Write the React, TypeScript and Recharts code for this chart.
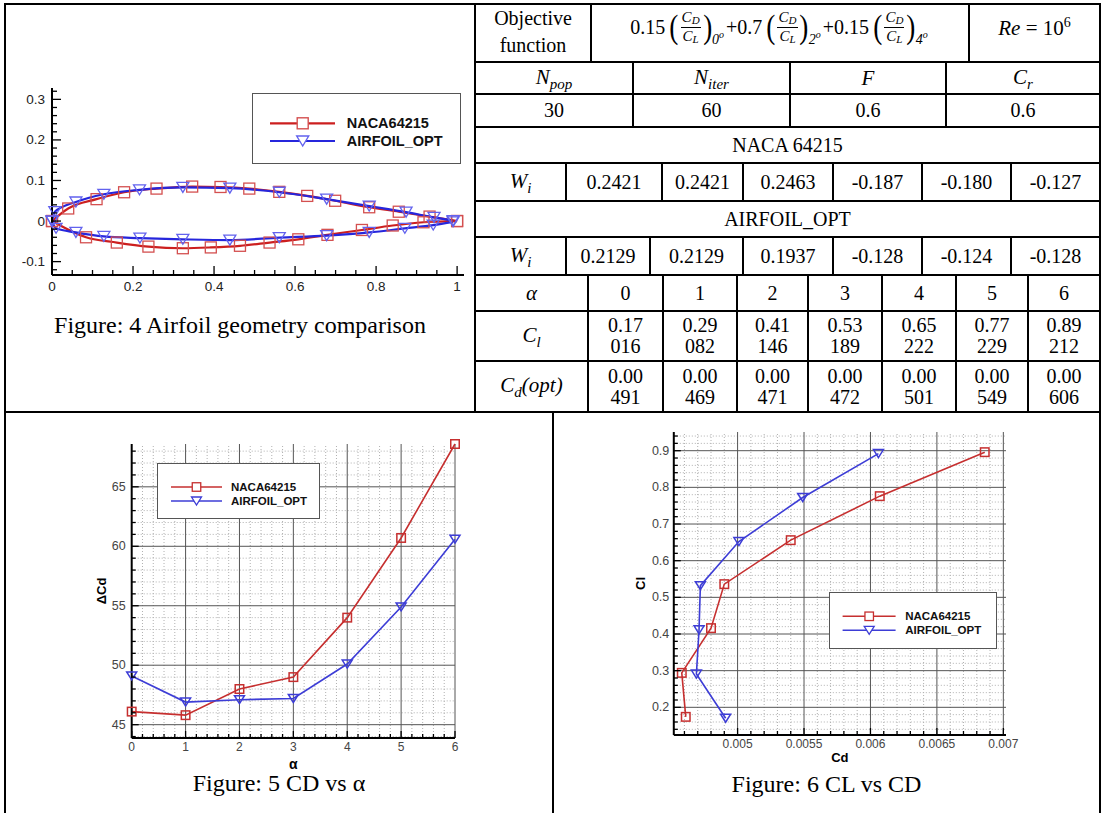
import React from 'react';
import { LineChart, Line, XAxis, YAxis, ReferenceLine, Legend } from 'recharts';

// ---------------- Figure 4 : airfoil geometry (x/c, y/c) ----------------
const nacaUpperX = [0, 0.040, 0.110, 0.178, 0.258, 0.346, 0.416, 0.487, 0.561, 0.630, 0.699, 0.783, 0.856, 0.932, 1.0];
const nacaUpperY = [0, 0.031, 0.054, 0.071, 0.080, 0.085, 0.084, 0.080, 0.072, 0.062, 0.050, 0.034, 0.023, 0.011, 0];
const nacaLowerX = [0, 0.084, 0.160, 0.238, 0.323, 0.392, 0.464, 0.537, 0.608, 0.680, 0.765, 0.841, 0.917, 1.0];
const nacaLowerY = [0, -0.040, -0.053, -0.063, -0.067, -0.065, -0.061, -0.053, -0.045, -0.034, -0.022, -0.011, -0.003, 0];
const optUpperX = [0, 0.007, 0.059, 0.128, 0.216, 0.323, 0.439, 0.561, 0.678, 0.783, 0.874, 0.943, 0.990];
const optUpperY = [0, 0.023, 0.047, 0.066, 0.077, 0.083, 0.081, 0.071, 0.054, 0.037, 0.022, 0.009, 0.001];
const optLowerX = [0, 0.010, 0.059, 0.128, 0.217, 0.323, 0.439, 0.561, 0.678, 0.783, 0.871, 0.941, 0.990];
const optLowerY = [0, -0.018, -0.028, -0.038, -0.042, -0.045, -0.047, -0.041, -0.036, -0.028, -0.018, -0.010, -0.002];

// ---------------- Figure 5 / 6 ----------------
const alphas = [0, 1, 2, 3, 4, 5, 6];
const nacaDeltaCd = [46.1, 45.8, 48.0, 49.0, 54.0, 60.7, 68.6];
const optDeltaCd = [49.1, 46.9, 47.1, 47.2, 50.1, 54.9, 60.6];
const nacaCd = [0.00461, 0.00458, 0.00480, 0.00490, 0.00540, 0.00607, 0.00686];
const nacaCl = [0.174, 0.294, 0.416, 0.536, 0.656, 0.776, 0.896];
const optCd = [0.00491, 0.00469, 0.00471, 0.00472, 0.00501, 0.00549, 0.00606];
const optCl = [0.17016, 0.29082, 0.41146, 0.53189, 0.65222, 0.77229, 0.89212];

// ---------------- Table ----------------
const objWeights = ['0.15', '+0.7', '+0.15'];
const objAngles = ['0', '2', '4'];
const deParams = ['30', '60', '0.6', '0.6'];
const wNaca = ['0.2421', '0.2421', '0.2463', '-0.187', '-0.180', '-0.127'];
const wOpt = ['0.2129', '0.2129', '0.1937', '-0.128', '-0.124', '-0.128'];
const clText = ['0.17016', '0.29082', '0.41146', '0.53189', '0.65222', '0.77229', '0.89212'];
const cdText = ['0.00491', '0.00469', '0.00471', '0.00472', '0.00501', '0.00549', '0.00606'];

// ---------------- ticks ----------------
const fig4XMajor = [0, 0.2, 0.4, 0.6, 0.8, 1];
const fig4XLabels = ['0', '0.2', '0.4', '0.6', '0.8', '1'];
const fig4YMajor = [-0.1, 0, 0.1, 0.2, 0.3];
const fig4YLabels = ['-0.1', '0', '0.1', '0.2', '0.3'];
const fig5XMajor = [0, 1, 2, 3, 4, 5, 6];
const fig5XLabels = ['0', '1', '2', '3', '4', '5', '6'];
const fig5YMajor = [45, 50, 55, 60, 65];
const fig5YLabels = ['45', '50', '55', '60', '65'];
const fig6XMajor = [0.005, 0.0055, 0.006, 0.0065, 0.007];
const fig6XLabels = ['0.005', '0.0055', '0.006', '0.0065', '0.007'];
const fig6YMajor = [0.2, 0.3, 0.4, 0.5, 0.6, 0.7, 0.8, 0.9];
const fig6YLabels = ['0.2', '0.3', '0.4', '0.5', '0.6', '0.7', '0.8', '0.9'];

function range(start: number, stop: number, step: number): number[] {
  const out: number[] = [];
  const n = Math.round((stop - start) / step);
  for (let i = 0; i <= n; i++) out.push(+(start + i * step).toFixed(7));
  return out;
}
const isIn = (arr: number[], v: number) => arr.some((m) => Math.abs(m - v) < 1e-9);

const fig4XTicks = range(0, 1, 0.05);
const fig4YTicks = range(-0.12, 0.32, 0.02);
const fig5XTicks = range(0, 6, 0.2);
const fig5YTicks = range(44, 68, 1);
const fig6XTicks = range(0.0046, 0.007, 0.0001);
const fig6YTicks = range(0.14, 0.94, 0.02);

const zip = (xs: number[], ys: number[]) => xs.map((x, i) => ({ x, y: ys[i] }));

const SANS = '"Liberation Sans", Arial, Helvetica, sans-serif';
const SERIF = '"Liberation Serif", "Times New Roman", serif';

// ---------------- helpers ----------------
function xTick(majors: number[], labels: string[], major: number, minor: number, gap: number, fs: number, color: string) {
  return (props: any) => {
    const { x, y, payload } = props;
    const idx = majors.findIndex((m) => Math.abs(m - payload.value) < 1e-9);
    return (
      <g>
        <line x1={x} x2={x} y1={y} y2={y - (idx >= 0 ? major : minor)} stroke="#000" strokeWidth={1.3} />
        {idx >= 0 && (
          <text x={x} y={y + gap} textAnchor="middle" dominantBaseline="central" fontFamily={SANS} fontSize={fs} fill={color}>
            {labels[idx]}
          </text>
        )}
      </g>
    );
  };
}
function yTick(majors: number[], labels: string[], major: number, minor: number, gap: number, fs: number, color: string) {
  return (props: any) => {
    const { x, y, payload } = props;
    const idx = majors.findIndex((m) => Math.abs(m - payload.value) < 1e-9);
    return (
      <g>
        <line x1={x} x2={x + (idx >= 0 ? major : minor)} y1={y} y2={y} stroke="#000" strokeWidth={1.3} />
        {idx >= 0 && (
          <text x={x - gap} y={y} textAnchor="end" dominantBaseline="central" fontFamily={SANS} fontSize={fs} fill={color}>
            {labels[idx]}
          </text>
        )}
      </g>
    );
  };
}
function squareDot(size: number, color: string, sw: number) {
  return (p: any) => (
    <rect key={`sq${p.index}`} x={p.cx - size / 2} y={p.cy - size / 2} width={size} height={size} fill="none" stroke={color} strokeWidth={sw} />
  );
}
function triPath(cx: number, cy: number, w: number, h: number) {
  return `M${cx - w / 2},${cy - h / 2}L${cx + w / 2},${cy - h / 2}L${cx},${cy + h / 2}Z`;
}
function triDot(w: number, h: number, color: string, sw: number) {
  return (p: any) => <path key={`tr${p.index}`} d={triPath(p.cx, p.cy, w, h)} fill="none" stroke={color} strokeWidth={sw} />;
}

type LegCfg = { w: number; h: number; rows: number[]; x0: number; x1: number; mx: number; tx: number; fs: number; sq: number; tw: number; th: number; lw: number; msw: number; cols: string[]; mcols: string[] };
const legendNames = ['NACA64215', 'AIRFOIL_OPT'];
function makeLegend(c: LegCfg) {
  return () => (
    <div style={{ width: c.w, height: c.h, border: '1px solid #555', background: '#fff', boxSizing: 'border-box', position: 'relative' }}>
      <svg width={c.w} height={c.h} style={{ position: 'absolute', left: -1, top: -1 }}>
        {legendNames.map((nm, i) => (
          <g key={nm}>
            <line x1={c.x0} x2={c.x1} y1={c.rows[i]} y2={c.rows[i]} stroke={c.cols[i]} strokeWidth={c.lw} />
            {i === 0 ? (
              <rect x={c.mx - c.sq / 2} y={c.rows[i] - c.sq / 2} width={c.sq} height={c.sq} fill="#fff" stroke={c.mcols[i]} strokeWidth={c.msw} />
            ) : (
              <path d={triPath(c.mx, c.rows[i], c.tw, c.th)} fill="#fff" stroke={c.mcols[i]} strokeWidth={c.msw} />
            )}
            <text x={c.tx} y={c.rows[i]} dominantBaseline="central" fontFamily={SANS} fontWeight="bold" fontSize={c.fs} fill="#111">
              {nm}
            </text>
          </g>
        ))}
      </svg>
    </div>
  );
}

function Cell({ x0, x1, y0, y1, children, style }: any) {
  return (
    <div
      style={{
        position: 'absolute', left: x0 - 1, top: y0 - 1, width: x1 - x0 + 2, height: y1 - y0 + 2,
        border: '2px solid #000', boxSizing: 'border-box', display: 'flex', alignItems: 'center', justifyContent: 'center',
        textAlign: 'center', fontFamily: SERIF, fontSize: 20, lineHeight: '21px', color: '#000', ...style,
      }}
    >
      {children}
    </div>
  );
}

const MI = ({ b, s }: { b: string; s?: string }) => (
  <span style={{ fontStyle: 'italic', fontFamily: SERIF, fontSize: 21 }}>
    {b}
    {s && <span style={{ fontSize: 15, position: 'relative', top: 5 }}>{s}</span>}
  </span>
);

const Frac = () => (
  <span style={{ display: 'inline-flex', flexDirection: 'column', alignItems: 'center', fontStyle: 'italic', fontSize: 15, lineHeight: '13px', margin: '0 1px' }}>
    <span style={{ padding: '0 2px 2px' }}>C<span style={{ fontSize: 11, position: 'relative', top: 2 }}>D</span></span>
    <span style={{ borderTop: '1px solid #000', padding: '2px 2px 0' }}>C<span style={{ fontSize: 11, position: 'relative', top: 2 }}>L</span></span>
  </span>
);
const Paren = ({ c }: { c: string }) => (
  <span style={{ fontSize: 34, lineHeight: '34px', display: 'inline-block', transform: 'scaleX(0.8)', margin: '0 -1px' }}>{c}</span>
);
const Term = ({ coef, deg }: { coef: string; deg: string }) => (
  <span style={{ display: 'inline-flex', alignItems: 'center' }}>
    <span style={{ marginRight: 4 }}>{coef}</span>
    <Paren c="(" />
    <Frac />
    <Paren c=")" />
    <span style={{ fontSize: 14, position: 'relative', top: 13, fontStyle: 'italic', marginRight: 2 }}>
      {deg}
      <span style={{ fontSize: 10, position: 'relative', top: -6 }}>o</span>
    </span>
  </span>
);

// ---------------- table ----------------
const RY = [4, 62, 94, 127, 163, 201, 237, 275, 311, 361, 412];
const C0 = [475, 591, 969, 1100];
const C1 = [475, 633, 790, 946, 1100];
const C4 = [475, 566, 662, 743, 833, 922, 1011, 1100];
const C6 = [475, 566, 650, 743, 833, 922, 1011, 1100];
const C7 = [475, 588, 663, 737, 808, 882, 956, 1028, 1100];

function Table() {
  const cells: any[] = [];
  const row = (cols: number[], r: number, contents: any[], style?: any) =>
    contents.forEach((c, i) =>
      cells.push(
        <Cell key={`r${r}c${i}`} x0={cols[i]} x1={cols[i + 1]} y0={RY[r]} y1={RY[r + 1]} style={style}>
          {c}
        </Cell>,
      ),
    );
  row(C0, 0, [
    <div style={{ lineHeight: '27px', position: 'relative', top: -1 }}>Objective<br />function</div>,
    <div style={{ display: 'flex', alignItems: 'center', position: 'relative', top: -6, fontSize: 20 }}>
      {objWeights.map((w, i) => <Term key={i} coef={w} deg={objAngles[i]} />)}
    </div>,
    <div style={{ position: 'relative', top: -4, fontSize: 21 }}>
      <i>Re</i> = 10<span style={{ fontSize: 14, position: 'relative', top: -8 }}>6</span>
    </div>,
  ]);
  row(C1, 1, [<MI b="N" s="pop" />, <MI b="N" s="iter" />, <MI b="F" />, <MI b="C" s="r" />]);
  row(C1, 2, deParams);
  row([475, 1100], 3, ['NACA 64215']);
  row(C4, 4, [<MI b="W" s="i" />, ...wNaca]);
  row([475, 1100], 5, ['AIRFOIL_OPT']);
  row(C6, 6, [<MI b="W" s="i" />, ...wOpt]);
  row(C7, 7, [<MI b="α" />, ...alphas.map(String)]);
  row(C7, 8, [<MI b="C" s="l" />, ...clText.map((v) => <div>{v.slice(0, 4)}<br />{v.slice(4)}</div>)]);
  row(C7, 9, [
    <span><MI b="C" s="d" /><span style={{ fontStyle: 'italic', fontSize: 21 }}>(opt)</span></span>,
    ...cdText.map((v) => <div>{v.slice(0, 4)}<br />{v.slice(4)}</div>),
  ]);
  return <>{cells}</>;
}

// ---------------- charts ----------------
const RED4 = '#cc1f1f';
const BLUE4 = '#2626dc';
const RED4M = '#d45050';
const BLUE4M = '#6262ee';
const RED = '#c62f2f';
const BLUE = '#3d3dd6';

function Fig4() {
  const leg = makeLegend({ w: 209, h: 71, rows: [30.3, 48], x0: 18, x1: 83, mx: 50.7, tx: 94.7, fs: 14.5, sq: 11, tw: 12, th: 10, lw: 2.2, msw: 1.4, cols: [RED4, BLUE4], mcols: [RED4M, BLUE4M] });
  const ax = { stroke: '#000', strokeWidth: 2 };
  return (
    <div style={{ position: 'absolute', left: 0, top: 0 }}>
      <LineChart width={480} height={300} margin={{ top: 88, right: 16, bottom: 0, left: 12 }}>
        <XAxis type="number" dataKey="x" domain={[0, 1.017]} ticks={fig4XTicks} interval={0} tickLine={false} tickSize={0} tickMargin={0}
          tick={xTick(fig4XMajor, fig4XLabels, 9, 5, 11, 13.5, '#222')} axisLine={ax} height={25} />
        <YAxis type="number" domain={[-0.133, 0.328]} ticks={fig4YTicks} interval={0} tickLine={false} tickSize={0} tickMargin={0}
          tick={yTick(fig4YMajor, fig4YLabels, 9, 5, 7, 13.5, '#222')} axisLine={ax} width={40} />
        <Line data={zip(nacaUpperX, nacaUpperY)} dataKey="y" type="monotone" stroke={RED4} strokeWidth={2.2} dot={squareDot(11, RED4M, 1.3)} activeDot={false} isAnimationActive={false} legendType="none" />
        <Line data={zip(nacaLowerX, nacaLowerY)} dataKey="y" type="monotone" stroke={RED4} strokeWidth={2.2} dot={squareDot(11, RED4M, 1.3)} activeDot={false} isAnimationActive={false} legendType="none" />
        <Line data={zip(optUpperX, optUpperY)} dataKey="y" type="monotone" stroke={BLUE4} strokeWidth={2.2} dot={triDot(12, 10, BLUE4M, 1.3)} activeDot={false} isAnimationActive={false} legendType="none" />
        <Line data={zip(optLowerX, optLowerY)} dataKey="y" type="monotone" stroke={BLUE4} strokeWidth={2.2} dot={triDot(12, 10, BLUE4M, 1.3)} activeDot={false} isAnimationActive={false} legendType="none" />
        <Legend layout="horizontal" verticalAlign="middle" align="center" wrapperStyle={{ left: 252, top: 93, width: 209, height: 71 }} content={leg} />
      </LineChart>
    </div>
  );
}

function Fig5() {
  const leg = makeLegend({ w: 163, h: 56, rows: [24, 38], x0: 14, x1: 65, mx: 39.5, tx: 74, fs: 11.5, sq: 8.5, tw: 10, th: 8, lw: 1.6, msw: 1.3, cols: [RED, BLUE], mcols: [RED, BLUE] });
  const ax = { stroke: '#000', strokeWidth: 2 };
  const xMin = fig5XTicks.filter((v) => !isIn(fig5XMajor, v));
  const yMin = fig5YTicks.filter((v) => !isIn(fig5YMajor, v));
  const naca = alphas.map((a, i) => ({ x: a, y: nacaDeltaCd[i] }));
  const opt = alphas.map((a, i) => ({ x: a, y: optDeltaCd[i] }));
  const lab = { fontFamily: SANS, fontWeight: 'bold', fill: '#000' } as any;
  return (
    <div style={{ position: 'absolute', left: 0, top: 412 }}>
      <LineChart width={480} height={378} margin={{ top: 32, right: 25, bottom: 0, left: 70.3 }}>
        <XAxis type="number" dataKey="x" domain={[0, 6]} ticks={fig5XTicks} interval={0} tickLine={false} tickSize={0} tickMargin={0}
          tick={xTick(fig5XMajor, fig5XLabels, 7, 4, 9, 12, '#444')} axisLine={ax} height={52}
          label={{ value: 'α', position: 'center', style: { ...lab, fontSize: 14 } }} />
        <YAxis type="number" domain={[43.88, 68.6]} ticks={fig5YTicks} interval={0} tickLine={false} tickSize={0} tickMargin={0}
          tick={yTick(fig5YMajor, fig5YLabels, 7, 4, 6, 12.5, '#444')} axisLine={ax} width={61.4}
          label={{ value: 'ΔCd', angle: -90, position: 'center', style: { ...lab, fontSize: 13 } }} />
        {xMin.map((v) => <ReferenceLine key={`xm${v}`} x={v} stroke="#b0b0b0" strokeDasharray="1 2" strokeWidth={1} />)}
        {yMin.map((v) => <ReferenceLine key={`ym${v}`} y={v} stroke="#b0b0b0" strokeDasharray="1 2" strokeWidth={1} />)}
        {fig5XMajor.slice(1).map((v) => <ReferenceLine key={`xM${v}`} x={v} stroke="#555" strokeWidth={1} />)}
        {fig5YMajor.map((v) => <ReferenceLine key={`yM${v}`} y={v} stroke="#555" strokeWidth={1} />)}
        <Line data={naca} dataKey="y" type="linear" stroke={RED} strokeWidth={1.6} dot={squareDot(8.5, RED, 1.5)} activeDot={false} isAnimationActive={false} legendType="none" />
        <Line data={opt} dataKey="y" type="linear" stroke={BLUE} strokeWidth={1.6} dot={triDot(10, 8, BLUE, 1.5)} activeDot={false} isAnimationActive={false} legendType="none" />
        <Legend layout="horizontal" verticalAlign="middle" align="center" wrapperStyle={{ left: 156.7, top: 50.7, width: 163, height: 56 }} content={leg} />
      </LineChart>
    </div>
  );
}

function Fig6() {
  const leg = makeLegend({ w: 168, h: 57, rows: [24.3, 38.3], x0: 13.6, x1: 66.6, mx: 40.2, tx: 76.2, fs: 11.5, sq: 8.5, tw: 10, th: 8, lw: 1.6, msw: 1.3, cols: [RED, BLUE], mcols: [RED, BLUE] });
  const ax = { stroke: '#000', strokeWidth: 2 };
  const xMin = fig6XTicks.filter((v) => !isIn(fig6XMajor, v));
  const yMin = fig6YTicks.filter((v) => !isIn(fig6YMajor, v));
  const naca = nacaCd.map((c, i) => ({ x: c, y: nacaCl[i] }));
  const opt = optCd.map((c, i) => ({ x: c, y: optCl[i] }));
  const lab = { fontFamily: SANS, fontWeight: 'bold', fill: '#000' } as any;
  return (
    <div style={{ position: 'absolute', left: 555, top: 412 }}>
      <LineChart width={470} height={367} margin={{ top: 20, right: 19, bottom: 0, left: 52.4 }}>
        <XAxis type="number" dataKey="x" domain={[0.00452, 0.00702]} ticks={fig6XTicks} interval={0} tickLine={false} tickSize={0} tickMargin={0}
          tick={xTick(fig6XMajor, fig6XLabels, 7, 4, 8.5, 12, '#444')} axisLine={ax} height={44}
          label={{ value: 'Cd', position: 'center', style: { ...lab, fontSize: 13 } }} />
        <YAxis type="number" domain={[0.1245, 0.951]} ticks={fig6YTicks} interval={0} tickLine={false} tickSize={0} tickMargin={0}
          tick={yTick(fig6YMajor, fig6YLabels, 7, 4, 4.5, 12.5, '#444')} axisLine={ax} width={66.4}
          label={{ value: 'Cl', angle: -90, position: 'center', style: { ...lab, fontSize: 13 } }} />
        {xMin.map((v) => <ReferenceLine key={`xm${v}`} x={v} stroke="#b0b0b0" strokeDasharray="1 2" strokeWidth={1} />)}
        {yMin.map((v) => <ReferenceLine key={`ym${v}`} y={v} stroke="#b0b0b0" strokeDasharray="1 2" strokeWidth={1} />)}
        {fig6XMajor.map((v) => <ReferenceLine key={`xM${v}`} x={v} stroke="#555" strokeWidth={1} />)}
        {fig6YMajor.map((v) => <ReferenceLine key={`yM${v}`} y={v} stroke="#555" strokeWidth={1} />)}
        <Line data={naca} dataKey="y" type="linear" stroke={RED} strokeWidth={1.6} dot={squareDot(8.5, RED, 1.5)} activeDot={false} isAnimationActive={false} legendType="none" />
        <Line data={opt} dataKey="y" type="linear" stroke={BLUE} strokeWidth={1.6} dot={triDot(10, 8, BLUE, 1.5)} activeDot={false} isAnimationActive={false} legendType="none" />
        <Legend layout="horizontal" verticalAlign="middle" align="center" wrapperStyle={{ left: 274.4, top: 179.7, width: 168, height: 57 }} content={leg} />
      </LineChart>
    </div>
  );
}

const captionStyle: any = { position: 'absolute', textAlign: 'center', fontFamily: SERIF, fontSize: 24, lineHeight: '24px', color: '#000', whiteSpace: 'nowrap' };

export default function App() {
  return (
    <div style={{ position: 'absolute', left: 0, top: 0, width: 1103, height: 813, background: '#fff', overflow: 'hidden', fontFamily: SERIF, color: '#000' }}>
      <Cell x0={5} x1={475} y0={4} y1={412} />
      <Cell x0={5} x1={553} y0={412} y1={840} />
      <Cell x0={553} x1={1100} y0={412} y1={840} />
      <Table />
      <Fig4 />
      <Fig5 />
      <Fig6 />
      <div style={{ ...captionStyle, left: 5, width: 470, top: 313 }}>Figure: 4 Airfoil geometry comparison</div>
      <div style={{ ...captionStyle, left: 5, width: 548, top: 771 }}>Figure: 5 CD vs α</div>
      <div style={{ ...captionStyle, left: 553, width: 547, top: 772 }}>Figure: 6 CL vs CD</div>
    </div>
  );
}
